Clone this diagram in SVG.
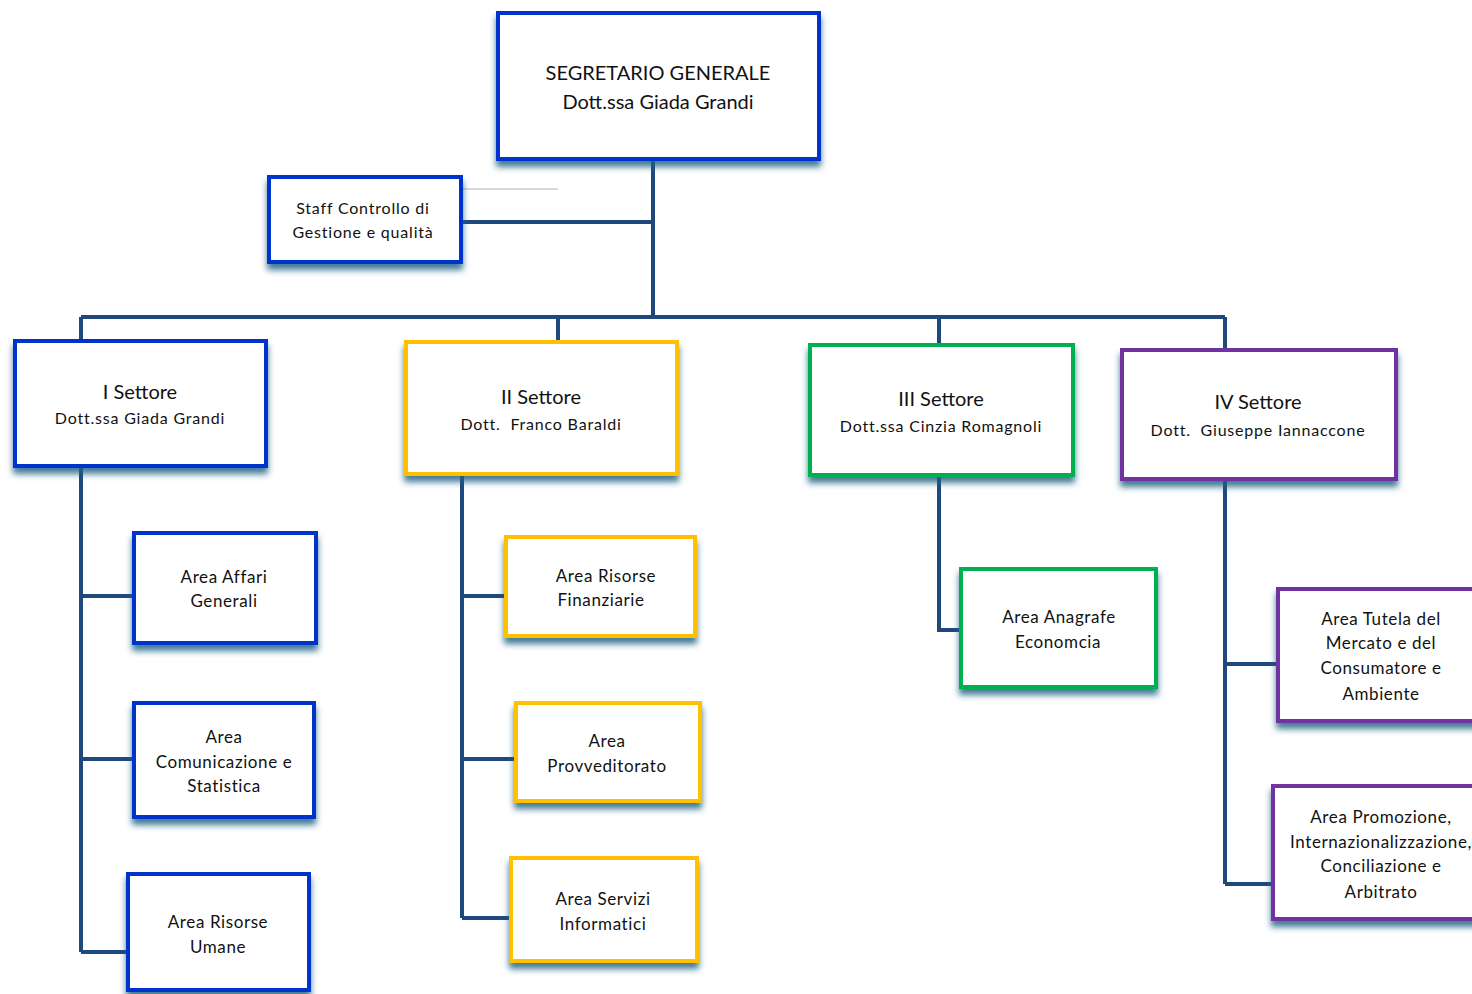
<svg xmlns="http://www.w3.org/2000/svg" width="1472" height="994" viewBox="0 0 1472 994">
<defs>
<filter id="sh" x="-10%" y="-10%" width="120%" height="130%">
<feDropShadow dx="0" dy="6" stdDeviation="3" flood-color="#1a6383" flood-opacity="0.85"/>
</filter>
<style>
.b{fill:#fff;stroke-width:4;filter:url(#sh)}
.blue{stroke:#0033cc}
.yel{stroke:#ffc000}
.grn{stroke:#00b050}
.pur{stroke:#7030a0}
.ln{fill:none;stroke:#1f497d;stroke-width:4}
text{font-family:"Lato","Liberation Sans",sans-serif;fill:#111;text-anchor:middle;white-space:pre}
.t1{font-size:20px}
.t2{font-size:17px;letter-spacing:0.6px}
.t3{font-size:16px;letter-spacing:0.8px}
</style>
</defs>
<rect width="1472" height="994" fill="#fff"/>
<g id="connectors">
<line x1="462" y1="189" x2="558" y2="189" stroke="#d9d9d9" stroke-width="2"/>
<path class="ln" d="M653 160V317M462 222H653M81 317H1225M81 317V340M558 317V341M939 317V344M1225 317V349"/>
<path class="ln" d="M81 467V952M81 596H133M81 759H133M81 952H127"/>
<path class="ln" d="M462 475V918M462 596H505M462 759H515M462 918H510"/>
<path class="ln" d="M939 476V630H960"/>
<path class="ln" d="M1225 480V884M1225 664H1277M1225 884H1272"/>
</g>
<g id="segretario"><rect class="b blue" x="498" y="13" width="321" height="146"/>
<text class="t1" x="658" y="80">SEGRETARIO GENERALE</text><text class="t1" x="658" y="109">Dott.ssa Giada Grandi</text></g>
<g id="staff"><rect class="b blue" x="269" y="177" width="192" height="85"/>
<text class="t3" x="363" y="214">Staff Controllo di</text><text class="t3" x="363" y="238">Gestione e qualità</text></g>
<g id="settore1"><rect class="b blue" x="15" y="341" width="251" height="125"/>
<text class="t1" x="140" y="399">I Settore</text><text class="t3" x="140" y="424">Dott.ssa Giada Grandi</text></g>
<g id="settore2"><rect class="b yel" x="406" y="342" width="271" height="132"/>
<text class="t1" x="541" y="404">II Settore</text><text class="t3" x="541" y="430" xml:space="preserve">Dott.  Franco Baraldi</text></g>
<g id="settore3"><rect class="b grn" x="810" y="345" width="263" height="130"/>
<text class="t1" x="941" y="406">III Settore</text><text class="t3" x="941" y="432">Dott.ssa Cinzia Romagnoli</text></g>
<g id="settore4"><rect class="b pur" x="1122" y="350" width="274" height="129"/>
<text class="t1" x="1258" y="409">IV Settore</text><text class="t3" x="1258" y="436" xml:space="preserve">Dott.  Giuseppe Iannaccone</text></g>
<g id="affari"><rect class="b blue" x="134" y="533" width="182" height="110"/>
<text class="t2" x="224" y="583">Area Affari</text><text class="t2" x="224" y="607">Generali</text></g>
<g id="comunicazione"><rect class="b blue" x="134" y="703" width="180" height="114"/>
<text class="t2" x="224" y="743">Area</text><text class="t2" x="224" y="768">Comunicazione e</text><text class="t2" x="224" y="792">Statistica</text></g>
<g id="risorse-umane"><rect class="b blue" x="128" y="874" width="181" height="116"/>
<text class="t2" x="218" y="928">Area Risorse</text><text class="t2" x="218" y="953">Umane</text></g>
<g id="finanziarie"><rect class="b yel" x="506" y="537" width="189" height="99"/>
<text class="t2" x="606" y="582">Area Risorse</text><text class="t2" x="601" y="606">Finanziarie</text></g>
<g id="provveditorato"><rect class="b yel" x="516" y="703" width="184" height="98"/>
<text class="t2" x="607" y="747">Area</text><text class="t2" x="607" y="772">Provveditorato</text></g>
<g id="informatici"><rect class="b yel" x="511" y="858" width="186" height="103"/>
<text class="t2" x="603" y="905">Area Servizi</text><text class="t2" x="603" y="930">Informatici</text></g>
<g id="anagrafe"><rect class="b grn" x="961" y="569" width="195" height="118"/>
<text class="t2" x="1059" y="623">Area Anagrafe</text><text class="t2" x="1058" y="648">Economcia</text></g>
<g id="tutela"><rect class="b pur" x="1278" y="589" width="200" height="132"/>
<text class="t2" x="1381" y="625">Area Tutela del</text><text class="t2" x="1381" y="649">Mercato e del</text><text class="t2" x="1381" y="674">Consumatore e</text><text class="t2" x="1381" y="700">Ambiente</text></g>
<g id="promozione"><rect class="b pur" x="1273" y="786" width="205" height="133"/>
<text class="t2" x="1381" y="823">Area Promozione,</text><text class="t2" x="1381" y="848">Internazionalizzazione,</text><text class="t2" x="1381" y="872">Conciliazione e</text><text class="t2" x="1381" y="898">Arbitrato</text></g>
</svg>
